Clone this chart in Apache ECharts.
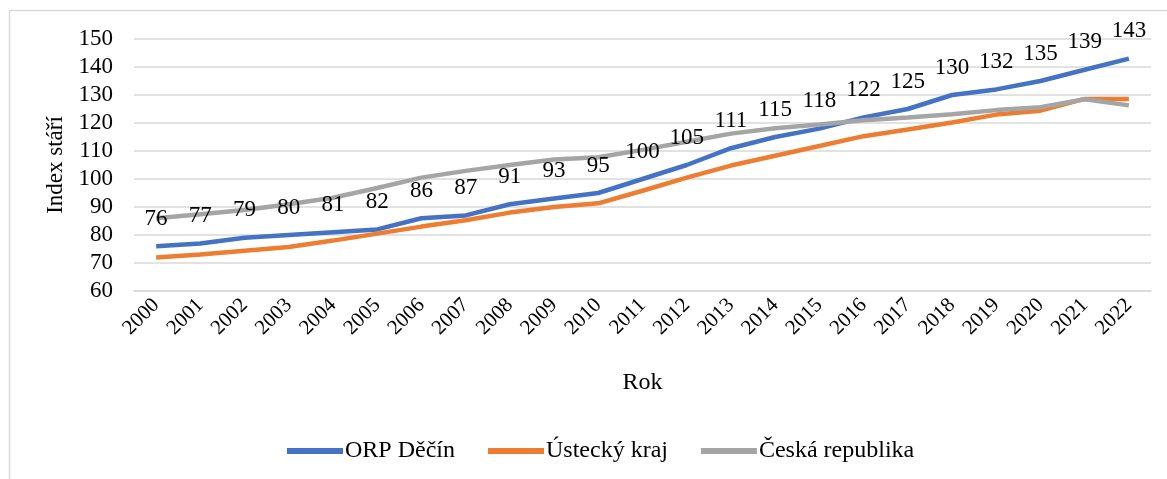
<!DOCTYPE html>
<html>
<head>
<meta charset="utf-8">
<script src="https://cdn.jsdelivr.net/npm/echarts@6/dist/echarts.min.js"></script>
<style>
  html, body { margin: 0; padding: 0; background: #fff; }
  #chart { width: 1167px; height: 479px; }
</style>
</head>
<body>
<div id="chart"></div>
<script>
// roky
var years = ['2000', '2001', '2002', '2003', '2004', '2005', '2006', '2007', '2008', '2009', '2010', '2011',
    '2012', '2013', '2014', '2015', '2016', '2017', '2018', '2019', '2020', '2021', '2022'];

// index stáří
var orpDecin = [76, 77, 79, 80, 81, 82, 86, 87, 91, 93, 95, 100, 105, 111, 115, 118, 122, 125, 130, 132, 135, 139, 143];
var ustecky = [72, 73, 74.4, 75.7, 78, 80.5, 83, 85.3, 88, 90, 91.3, 95.8, 100.5, 104.8, 108.3, 111.8, 115.3, 117.7, 120.2, 123, 124.4, 128.6, 128.6];
var ceskaRep = [86, 87.4, 88.9, 91, 93.3, 96.8, 100.5, 102.9, 105, 107, 107.8, 110.4, 113.3, 116.2, 118.1, 119.5, 121, 122, 123.1, 124.6, 125.6, 128.5, 126.3];

var yTicks = [60, 150, 10];

var font = '"Liberation Serif", "Times New Roman", serif';

var chart = echarts.init(document.getElementById('chart'));

var option = {
    backgroundColor: '#fff',
    animation: false,
    textStyle: { fontFamily: font, color: '#000' },
    graphic: [
        {
            type: 'rect',
            shape: { x: 9.5, y: 10.5, width: 1200, height: 500 },
            style: { fill: 'none', stroke: '#d9d9d9', lineWidth: 1.5 },
            silent: true,
            z: -1
        }
    ],
    grid: {
        left: 134,
        right: 16,
        top: 39,
        bottom: 188
    },
    legend: {
        top: 434,
        left: 282,
        icon: 'rect',
        itemWidth: 56,
        itemHeight: 6,
        itemGap: 33,
        textStyle: { fontFamily: font, fontSize: 24, color: '#000', padding: [0, 0, 0, -3] },
        data: ['ORP Děčín', 'Ústecký kraj', 'Česká republika']
    },
    xAxis: {
        type: 'category',
        data: years,
        boundaryGap: true,
        name: 'Rok',
        nameLocation: 'middle',
        nameGap: 80,
        nameTextStyle: { fontFamily: font, fontSize: 24, color: '#000' },
        axisLine: { lineStyle: { color: '#d9d9d9', width: 1.5 } },
        axisTick: { show: false },
        axisLabel: { rotate: 45, margin: 11, fontSize: 21, fontFamily: font, color: '#000' }
    },
    yAxis: {
        type: 'value',
        min: yTicks[0],
        max: yTicks[1],
        interval: yTicks[2],
        name: 'Index stáří',
        nameLocation: 'middle',
        nameGap: 66,
        nameTextStyle: { fontFamily: font, fontSize: 23, color: '#000' },
        axisLine: { show: false },
        axisTick: { show: false },
        axisLabel: { margin: 21, fontSize: 23, fontFamily: font, color: '#000' },
        splitLine: { lineStyle: { color: '#d9d9d9', width: 1.5 } }
    },
    series: [
        {
            name: 'ORP Děčín',
            type: 'line',
            data: orpDecin,
            symbol: 'circle',
            symbolSize: 0,
            showSymbol: true,
            lineStyle: { width: 4.5, color: '#4472c4' },
            itemStyle: { color: '#4472c4' },
            label: {
                show: true,
                position: 'top',
                distance: 16,
                fontSize: 23,
                fontFamily: font,
                color: '#000'
            }
        },
        {
            name: 'Ústecký kraj',
            type: 'line',
            data: ustecky,
            symbol: 'none',
            lineStyle: { width: 4.5, color: '#ed7d31' },
            itemStyle: { color: '#ed7d31' }
        },
        {
            name: 'Česká republika',
            type: 'line',
            data: ceskaRep,
            symbol: 'none',
            lineStyle: { width: 4.5, color: '#a5a5a5' },
            itemStyle: { color: '#a5a5a5' }
        }
    ]
};

chart.setOption(option);
</script>
</body>
</html>
